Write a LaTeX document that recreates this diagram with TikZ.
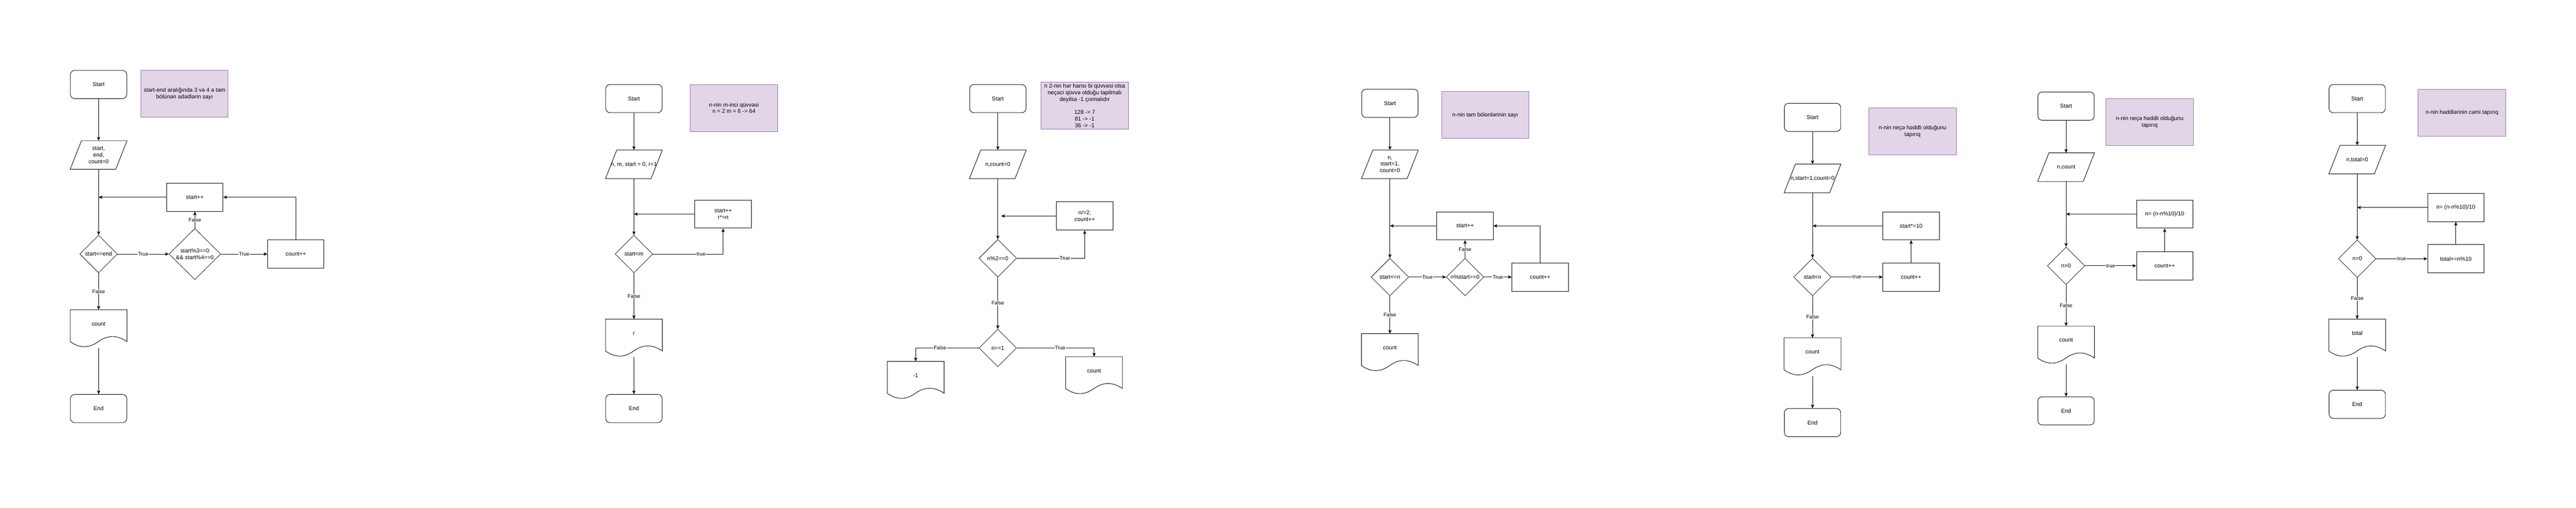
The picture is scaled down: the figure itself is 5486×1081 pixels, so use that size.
\documentclass[tikz,border=0pt]{standalone}
\usepackage{fontspec}
\setmainfont{Liberation Sans}
\usetikzlibrary{shapes.geometric,arrows.meta,calc}
\definecolor{notefill}{HTML}{E1D5E7}
\definecolor{noteline}{HTML}{9673A6}
\tikzset{
  terminal/.style={draw,rounded corners=9pt,minimum width=120pt,minimum height=60pt},
  inout/.style={minimum width=120pt,minimum height=60pt,inner sep=0pt,align=center},
  process/.style={draw,minimum width=120pt,minimum height=60pt,align=center},
  decision/.style={draw,diamond,line width=0.8pt,inner sep=0pt,minimum width=80pt,minimum height=80pt,align=center},
  docshape/.style={minimum width=120pt,minimum height=80pt,text height=9pt,text depth=22pt},
  notebox/.style={draw=noteline,fill=notefill,minimum width=186pt,minimum height=100pt,inner sep=2pt,align=center},
  lbl/.style={fill=white,inner sep=1pt,font=\fontsize{11}{13}\selectfont},
}
% outline of an input/output box and of a printed document
\newcommand{\iopath}[1]{\draw ($(#1.north west)+(24,0)$) -- (#1.north east) -- ($(#1.south east)+(-24,0)$) -- (#1.south west) -- cycle;}
\newcommand{\docpath}[1]{\draw (#1.north west) -- (#1.north east) -- ($(#1.north east)+(0,68)$)
  .. controls ($(#1.north west)+(100,53.6)$) and ($(#1.north west)+(80,53.6)$) .. ($(#1.north west)+(60,68)$)
  .. controls ($(#1.north west)+(40,82.4)$) and ($(#1.north west)+(20,82.4)$) .. ($(#1.north west)+(0,68)$) -- cycle;}
\begin{document}
\begin{tikzpicture}[x=1pt,y=-1pt,line width=1pt,
    every node/.append style={font=\fontsize{12}{14}\selectfont},
    >={Stealth[length=8pt,width=7pt,inset=2pt]}]
      \fill[white] (0,0) rectangle (5486,1081);
      \useasboundingbox (0,0) rectangle (5486,1081);
      % chart 1
      \node[terminal] (start1) at (210,180) {Start};
      \node[notebox] (note1) at (393,200) {start-end aralığında 3 və 4 ə tam\\bölünən ədədlərin sayı};
      \node[inout] (in1) at (210,330) {start,\\end,\\count=0};
      \node[process] (inc1) at (415,420) {start++};
      \node[decision] (cond1) at (210,541) {start<=end};
      \node[decision,minimum width=110pt,minimum height=109pt] (div1) at (415,541) {start\%3==0\\\&\& start\%4==0};
      \node[process] (cnt1) at (630,541) {count++};
      \node[docshape] (out1) at (210,700) {count};
      \node[terminal] (end1) at (210,870) {End};
      \coordinate (j1) at (210,420);
      % chart 2
      \node[terminal] (start2) at (1350,210) {Start};
      \node[notebox] (note2) at (1563,230) {n-nin m-inci qüvvəsi\\n = 2 m = 6 -> 64};
      \node[inout] (in2) at (1350,350) {n, m, start = 0, r=1};
      \node[process] (inc2) at (1540,456) {start++\\r*=n};
      \node[decision] (cond2) at (1350,541) {start<m};
      \node[docshape] (out2) at (1350,720) {r};
      \node[terminal] (end2) at (1350,870) {End};
      \coordinate (j2) at (1350,456);
      % chart 3
      \node[terminal] (start3) at (2125,210) {Start};
      \node[notebox] (note3) at (2310,225) {n 2-nin hər hansı bi qüvvəsi olsa\\neçəci qüvvə olduğu tapilmalı\\deyilsə -1 çıxmalıdır\\[14pt]128 -> 7\\81 -> -1\\36 -> -1};
      \node[inout] (in3) at (2125,350) {n,count=0};
      \node[process] (half3) at (2310,460) {n/=2;\\count++};
      \node[decision] (even3) at (2125,550) {n\%2==0};
      \node[decision] (one3) at (2125,741) {n==1};
      \node[docshape] (neg3) at (1950,810) {-1};
      \node[docshape] (out3) at (2330,800) {count};
      \coordinate (j3) at (2132,460);
      % chart 4
      \node[terminal] (start4) at (2960,220) {Start};
      \node[notebox] (note4) at (3163,245) {n-nin tam bölənlərinin sayı};
      \node[inout] (in4) at (2960,350) {n,\\start=1,\\count=0};
      \node[process] (inc4) at (3120,481) {start++};
      \node[decision] (cond4) at (2960,590) {start<=n};
      \node[decision] (div4) at (3120,590) {n\%start==0};
      \node[process] (cnt4) at (3280,590) {count++};
      \node[docshape] (out4) at (2960,751) {count};
      \coordinate (j4) at (2960,481);
      % chart 5
      \node[terminal] (start5) at (3860,250) {Start};
      \node[notebox] (note5) at (4073,280) {n-nin neçə həddli olduğunu\\tapırıq};
      \node[inout] (in5) at (3860,380) {n,start=1,count=0};
      \node[process] (mul5) at (4070,481) {start*=10};
      \node[decision] (cond5) at (3860,590) {start<n};
      \node[process] (cnt5) at (4070,590) {count++};
      \node[docshape] (out5) at (3860,760) {count};
      \node[terminal] (end5) at (3860,900) {End};
      \coordinate (j5) at (3860,481);
      % chart 6
      \node[terminal] (start6) at (4400,226) {Start};
      \node[notebox] (note6) at (4578,260) {n-nin neçə həddli olduğunu\\tapırıq};
      \node[inout] (in6) at (4400,356) {n,count};
      \node[process] (cut6) at (4610,456) {n= (n-n\%10)/10};
      \node[decision] (cond6) at (4400,566) {n>0};
      \node[process] (cnt6) at (4610,566) {count++};
      \node[docshape] (out6) at (4400,735) {count};
      \node[terminal] (end6) at (4400,875) {End};
      \coordinate (j6) at (4400,456);
      % chart 7
      \node[terminal] (start7) at (5020,210) {Start};
      \node[notebox] (note7) at (5243,240) {n-nin həddlərinin cəmi tapırıq};
      \node[inout] (in7) at (5020,340) {n,total=0};
      \node[process] (cut7) at (5230,442) {n= (n-n\%10)/10};
      \node[decision] (cond7) at (5020,551) {n>0};
      \node[process] (sum7) at (5230,551) {total+=n\%10};
      \node[docshape] (out7) at (5020,720) {total};
      \node[terminal] (end7) at (5020,861) {End};
      \coordinate (j7) at (5020,442);
      % outlines
      \foreach \p in {in1,in2,in3,in4,in5,in6,in7} {\iopath{\p}}
      \foreach \d in {out1,out2,neg3,out3,out4,out5,out6,out7} {\docpath{\d}}
      \begin{scope}[->]
        \draw (start1) -- (in1);
        \draw (in1) -- (cond1);
        \draw (inc1) -- (j1);
        \draw (cond1) -- node[lbl]{True} (div1);
        \draw (div1) -- node[lbl]{True} (cnt1);
        \draw (div1) -- node[lbl]{False} (inc1);
        \draw (cnt1.north) |- (inc1.east);
        \draw (cond1) -- node[lbl]{False} (out1);
        \draw (out1) -- (end1);
        \draw (start2) -- (in2);
        \draw (in2) -- (cond2);
        \draw (inc2) -- (j2);
        \draw (cond2.east) -| node[lbl,pos=0.343]{true} (inc2.south);
        \draw (cond2) -- node[lbl]{False} (out2);
        \draw (out2) -- (end2);
        \draw (start3) -- (in3);
        \draw (in3) -- (even3);
        \draw (half3) -- (j3);
        \draw (even3.east) -| node[lbl,pos=0.353]{True} (half3.south);
        \draw (even3) -- node[lbl]{False} (one3);
        \draw (one3.west) -| node[lbl,pos=0.307]{False} (neg3.north);
        \draw (one3.east) -| node[lbl,pos=0.28]{True} (out3.north);
        \draw (start4) -- (in4);
        \draw (in4) -- (cond4);
        \draw (inc4) -- (j4);
        \draw (cond4) -- node[lbl]{True} (div4);
        \draw (div4) -- node[lbl]{True} (cnt4);
        \draw (div4) -- node[lbl]{False} (inc4);
        \draw (cnt4.north) |- (inc4.east);
        \draw (cond4) -- node[lbl]{False} (out4);
        \draw (start5) -- (in5);
        \draw (in5) -- (cond5);
        \draw (mul5) -- (j5);
        \draw (cond5) -- node[lbl]{true} (cnt5);
        \draw (cnt5) -- (mul5);
        \draw (cond5) -- node[lbl]{False} (out5);
        \draw (out5) -- (end5);
        \draw (start6) -- (in6);
        \draw (in6) -- (cond6);
        \draw (cut6) -- (j6);
        \draw (cond6) -- node[lbl]{true} (cnt6);
        \draw (cnt6) -- (cut6);
        \draw (cond6) -- node[lbl]{False} (out6);
        \draw (out6) -- (end6);
        \draw (start7) -- (in7);
        \draw (in7) -- (cond7);
        \draw (cut7) -- (j7);
        \draw (cond7) -- node[lbl]{true} (sum7);
        \draw (sum7) -- (cut7);
        \draw (cond7) -- node[lbl]{False} (out7);
        \draw (out7) -- (end7);
      \end{scope}
\end{tikzpicture}
\end{document}
